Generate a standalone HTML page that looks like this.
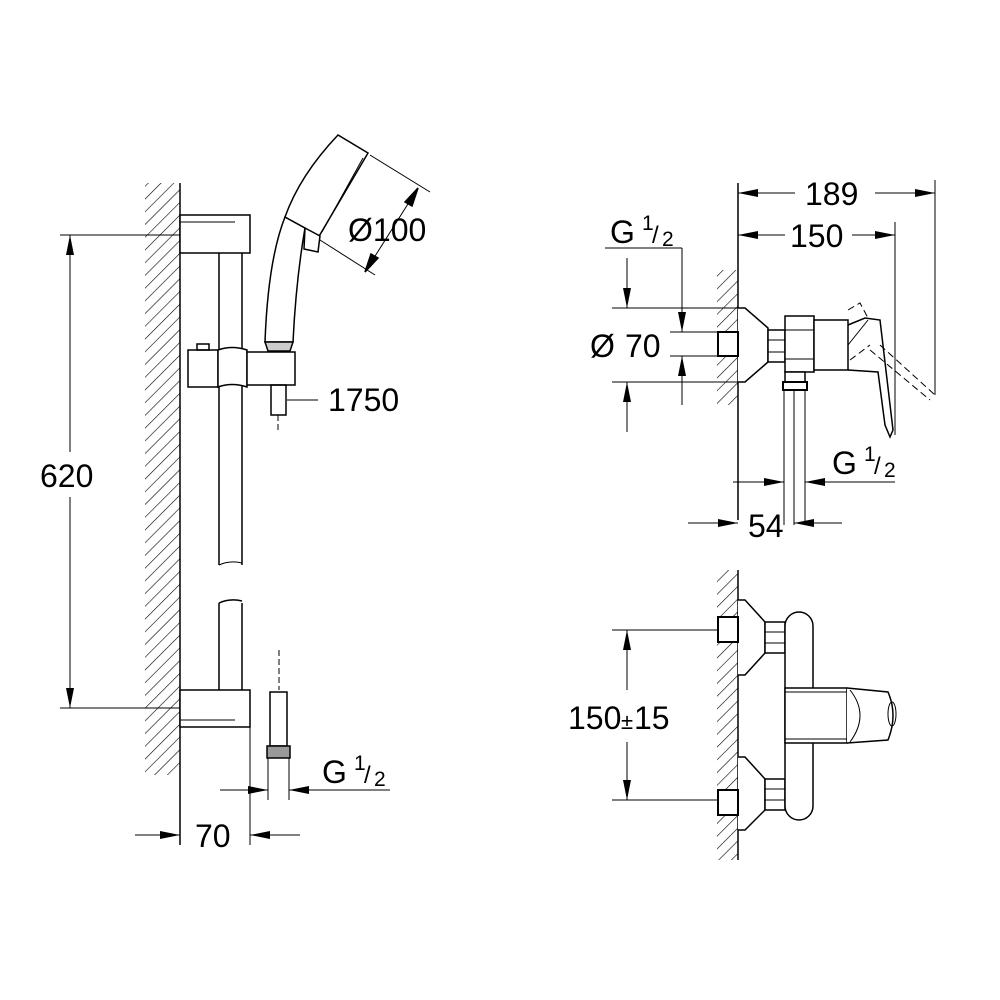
<!DOCTYPE html>
<html><head><style>body{margin:0;background:#fff}svg{display:block}text{font-family:"Liberation Sans",sans-serif;fill:#000}</style></head><body>
<svg width="1000" height="1000" viewBox="0 0 1000 1000" xmlns="http://www.w3.org/2000/svg">
<defs>
<pattern id="h" width="9" height="9" patternUnits="userSpaceOnUse" patternTransform="rotate(45)"><line x1="0" y1="0" x2="0" y2="9" stroke="#000" stroke-width="1.2"/></pattern>
<marker id="b" viewBox="0 0 20 8" refX="20" refY="4" markerWidth="20" markerHeight="8" markerUnits="userSpaceOnUse" orient="auto-start-reverse"><path d="M0,0L20,4L0,8z" fill="#000"/></marker>
</defs>
<g fill="none" stroke="#000" stroke-width="1.5">
<!-- LEFT -->
<rect x="145" y="183" width="35" height="592" fill="url(#h)" stroke="none"/>
<line x1="180" y1="183" x2="180" y2="845"/>
<rect x="180" y="215" width="70" height="38" fill="#fff"/>
<line x1="180" y1="222" x2="235" y2="222" stroke-width="1"/>
<rect x="180" y="690" width="70" height="37" fill="#fff"/>
<line x1="180" y1="720" x2="235" y2="720" stroke-width="1"/>
<line x1="219" y1="253" x2="219" y2="565"/><line x1="242" y1="253" x2="242" y2="565"/>
<path d="M219,565 Q230,560 242,563" stroke-width="1"/>
<path d="M219,603 Q230,598 242,601"/>
<line x1="219" y1="603" x2="219" y2="690"/><line x1="242" y1="603" x2="242" y2="690"/>
<rect x="188" y="350" width="30" height="37" fill="#fff"/>
<rect x="197" y="344" width="12" height="6"/>
<path d="M218,350 Q232,345 247,350 L247,387 Q232,382 218,387 Z" fill="#fff"/>
<rect x="247" y="352" width="48" height="33" fill="#fff"/>
<rect x="271" y="385" width="15" height="30"/>
<line x1="278" y1="415" x2="278" y2="432" stroke-dasharray="6,3" stroke-width="1"/>
<path d="M265,342 Q268,260 285,217 L305,228 Q296,280 293,342 Z" fill="#fff"/>
<path d="M265,342 L293,342 L290,351 L268,351 Z" fill="#ccc"/>
<path d="M285,217 Q300,175 338,135 L368,153 L318,238 L305,228 Z" fill="#fff"/>
<line x1="363" y1="158" x2="322" y2="232" stroke-width="1"/>
<path d="M305,228 L320,236 L318,252 L304,249 Z" fill="#fff"/>
<line x1="370" y1="155" x2="430" y2="192" stroke-width="1"/>
<line x1="320" y1="240" x2="375" y2="275" stroke-width="1"/>
<line x1="418" y1="188" x2="365" y2="272" stroke-width="1"/>
<path d="M418,188 L405,202 L412,206 Z" fill="#000"/>
<path d="M365,272 L378,258 L371,254 Z" fill="#000"/>
<line x1="287" y1="400" x2="318" y2="400" stroke-width="1"/>
<line x1="60" y1="235" x2="180" y2="235" stroke-width="1"/>
<line x1="60" y1="708" x2="180" y2="708" stroke-width="1"/>
<line x1="70" y1="235" x2="70" y2="452" stroke-width="1" marker-start="url(#b)"/>
<line x1="70" y1="497" x2="70" y2="708" stroke-width="1" marker-end="url(#b)"/>
<line x1="279" y1="650" x2="279" y2="690" stroke-dasharray="6,3" stroke-width="1"/>
<rect x="270" y="692" width="17" height="54" fill="#fff"/>
<rect x="267" y="746" width="23" height="12" fill="#999"/>
<line x1="268" y1="758" x2="268" y2="800" stroke-width="1"/><line x1="289" y1="758" x2="289" y2="800" stroke-width="1"/>
<line x1="220" y1="790" x2="268" y2="790" stroke-width="1" marker-end="url(#b)"/>
<line x1="390" y1="790" x2="289" y2="790" stroke-width="1" marker-end="url(#b)"/>
<line x1="250" y1="727" x2="250" y2="845" stroke-width="1"/>
<line x1="135" y1="835" x2="180" y2="835" stroke-width="1" marker-end="url(#b)"/>
<line x1="300" y1="835" x2="250" y2="835" stroke-width="1" marker-end="url(#b)"/>
<!-- RIGHT TOP -->
<rect x="717" y="270" width="21" height="135" fill="url(#h)" stroke="none"/>
<line x1="738" y1="183" x2="738" y2="520"/>
<line x1="935" y1="180" x2="935" y2="395" stroke-width="1"/>
<line x1="895" y1="222" x2="895" y2="435" stroke-width="1"/>
<line x1="738" y1="193" x2="795" y2="193" stroke-width="1" marker-start="url(#b)"/>
<line x1="875" y1="193" x2="935" y2="193" stroke-width="1" marker-end="url(#b)"/>
<line x1="738" y1="235" x2="785" y2="235" stroke-width="1" marker-start="url(#b)"/>
<line x1="852" y1="235" x2="895" y2="235" stroke-width="1" marker-end="url(#b)"/>
<path d="M738,308 L745,308 L768,328 L768,362 L745,382 L738,382" fill="#fff"/>
<rect x="718" y="332" width="20" height="24" fill="#fff" stroke-width="2"/>
<rect x="768" y="330" width="17" height="32" fill="#fff"/>
<line x1="768" y1="340" x2="785" y2="340" stroke-width="1"/><line x1="768" y1="352" x2="785" y2="352" stroke-width="1"/>
<rect x="785" y="316" width="29" height="56" fill="#fff"/>
<line x1="785" y1="330" x2="814" y2="330" stroke-width="1"/><line x1="785" y1="359" x2="814" y2="359" stroke-width="1"/>
<rect x="814" y="320" width="34" height="50" fill="#fff"/>
<path d="M848,325 L865,318 L880,320 L893,430 L890,437 L885,425 L878,372 L848,370"/>
<path d="M848,345 L868,320" stroke-width="1"/>
<path d="M848,310 L860,303 L868,318 M880,345 L935,395 M870,350 L930,400 M850,360 L870,345" stroke-width="1" stroke-dasharray="7,4"/>
<rect x="785" y="372" width="20" height="18" fill="#fff"/>
<rect x="783" y="382" width="24" height="8" fill="#fff" stroke-width="2"/>
<line x1="784" y1="390" x2="784" y2="525" stroke-width="1"/><line x1="805" y1="390" x2="805" y2="525" stroke-width="1"/><line x1="794" y1="390" x2="794" y2="525" stroke-width="1"/>
<line x1="605" y1="248" x2="682" y2="248" stroke-width="1"/>
<line x1="682" y1="248" x2="682" y2="332" stroke-width="1" marker-end="url(#b)"/>
<line x1="682" y1="405" x2="682" y2="356" stroke-width="1" marker-end="url(#b)"/>
<line x1="612" y1="308" x2="738" y2="308" stroke-width="1"/>
<line x1="670" y1="332" x2="718" y2="332" stroke-width="1"/>
<line x1="670" y1="356" x2="718" y2="356" stroke-width="1"/>
<line x1="612" y1="382" x2="738" y2="382" stroke-width="1"/>
<line x1="627" y1="258" x2="627" y2="308" stroke-width="1" marker-end="url(#b)"/>
<line x1="627" y1="432" x2="627" y2="382" stroke-width="1" marker-end="url(#b)"/>
<line x1="895" y1="482" x2="805" y2="482" stroke-width="1" marker-end="url(#b)"/>
<line x1="733" y1="482" x2="784" y2="482" stroke-width="1" marker-end="url(#b)"/>
<line x1="688" y1="523" x2="738" y2="523" stroke-width="1" marker-end="url(#b)"/>
<line x1="842" y1="523" x2="794" y2="523" stroke-width="1" marker-end="url(#b)"/>
<!-- RIGHT BOTTOM -->
<rect x="717" y="570" width="21" height="290" fill="url(#h)" stroke="none"/>
<line x1="738" y1="570" x2="738" y2="860"/>
<path d="M738,600 L745,600 L765,622 L765,653 L745,675 L738,675" fill="#fff"/>
<path d="M738,757 L745,757 L765,779 L765,810 L745,830 L738,830" fill="#fff"/>
<rect x="718" y="617" width="20" height="25" fill="#fff" stroke-width="2"/>
<rect x="718" y="790" width="20" height="25" fill="#fff" stroke-width="2"/>
<rect x="765" y="622" width="20" height="31" fill="#fff"/>
<line x1="765" y1="632" x2="785" y2="632" stroke-width="1"/><line x1="765" y1="643" x2="785" y2="643" stroke-width="1"/>
<rect x="765" y="779" width="20" height="31" fill="#fff"/>
<line x1="765" y1="789" x2="785" y2="789" stroke-width="1"/><line x1="765" y1="800" x2="785" y2="800" stroke-width="1"/>
<rect x="785" y="612" width="28" height="208" rx="14" fill="#fff"/>
<rect x="785" y="688" width="62" height="55" fill="#fff"/>
<line x1="785" y1="692" x2="847" y2="692" stroke-width="1"/><line x1="785" y1="739" x2="847" y2="739" stroke-width="1"/>
<path d="M847,688 L888,692 Q898,715 888,740 L847,743" fill="#fff"/>
<path d="M850,690 Q870,715 850,742" stroke-width="1"/>
<ellipse cx="892" cy="714" rx="4" ry="12" stroke-width="1"/>
<line x1="612" y1="630" x2="718" y2="630" stroke-width="1"/>
<line x1="612" y1="800" x2="718" y2="800" stroke-width="1"/>
<line x1="627" y1="690" x2="627" y2="630" stroke-width="1" marker-end="url(#b)"/>
<line x1="627" y1="742" x2="627" y2="800" stroke-width="1" marker-end="url(#b)"/>
</g>
<g font-size="32">
<text x="348" y="241">Ø100</text>
<text x="328" y="411">1750</text>
<text x="40" y="487">620</text>
<text x="195" y="847">70</text>
<text x="322" y="783">G</text><text x="354" y="770" font-size="21">1</text><text x="364" y="783" font-size="24">/</text><text x="374" y="786" font-size="21">2</text>
<text x="805" y="205">189</text>
<text x="790" y="247">150</text>
<text x="610" y="243">G</text><text x="642" y="230" font-size="21">1</text><text x="652" y="243" font-size="24">/</text><text x="662" y="246" font-size="21">2</text>
<text x="590" y="357">Ø</text><text x="625" y="357">70</text>
<text x="832" y="474">G</text><text x="864" y="461" font-size="21">1</text><text x="874" y="474" font-size="24">/</text><text x="884" y="477" font-size="21">2</text>
<text x="748" y="537">54</text>
<text x="568" y="729">150</text><text x="621" y="729" font-size="22">±</text><text x="634" y="729">15</text>
</g>
</svg>
</body></html>
